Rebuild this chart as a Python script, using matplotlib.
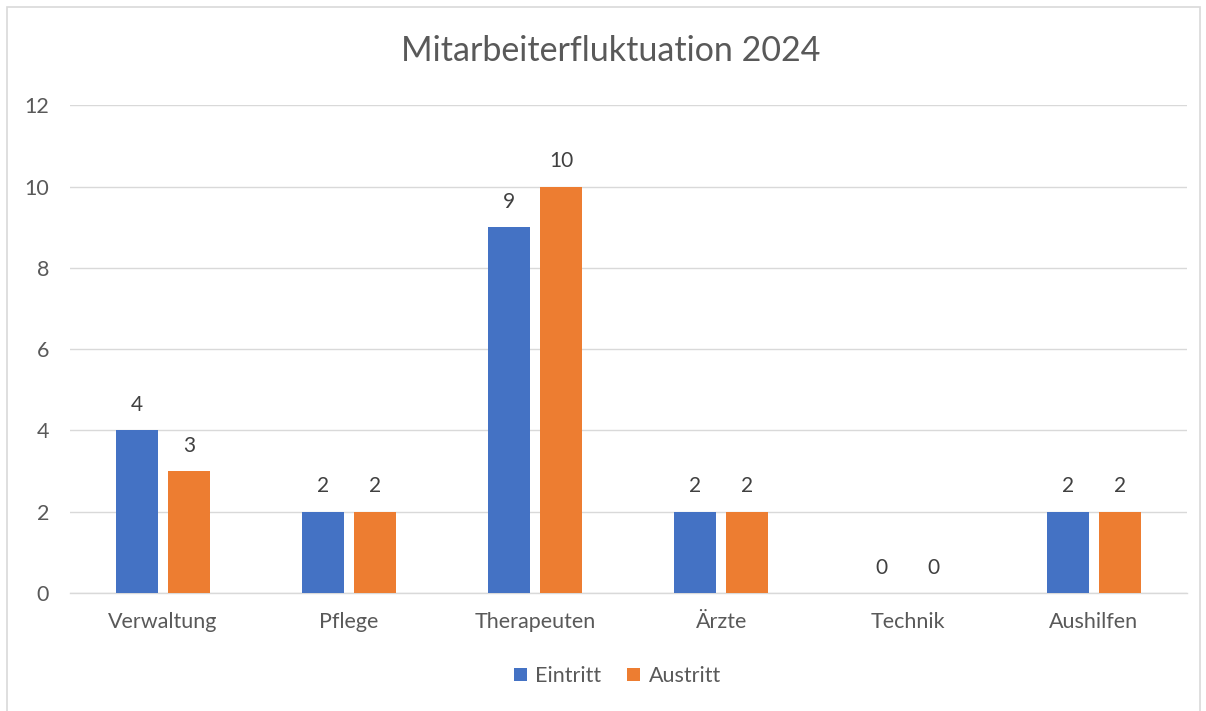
import matplotlib
matplotlib.use("Agg")
import matplotlib.pyplot as plt
import numpy as np
from matplotlib.patches import Rectangle

categories = ["Verwaltung", "Pflege", "Therapeuten", "Ärzte", "Technik", "Aushilfen"]
eintritt = [4, 2, 9, 2, 0, 2]
austritt = [3, 2, 10, 2, 0, 2]
series_names = ["Eintritt", "Austritt"]
colors = ["#4472C4", "#ED7D31"]
text_color = "#595959"

plt.rcParams["font.family"] = ["Lato", "DejaVu Sans"]

fig = plt.figure(figsize=(12.06, 7.11), dpi=100)
ax = fig.add_axes([0.058, 0.166, 0.926, 0.686])

x = np.arange(len(categories))
width = 0.226
offset = 0.14
for vals, name, color, sign in zip([eintritt, austritt], series_names, colors, [-1, 1]):
    bars = ax.bar(x + sign * offset, vals, width, color=color, label=name, zorder=3)
    for bar, v in zip(bars, vals):
        ax.annotate(f"{v}", (bar.get_x() + bar.get_width() / 2, v),
                    xytext=(0, 14), textcoords="offset points",
                    ha="center", va="baseline", fontsize=15, color="#404040")

ax.set_xlim(-0.5, len(categories) - 0.5)
ax.set_ylim(0, 12)
ax.set_yticks(range(0, 13, 2))
ax.set_xticks(x, categories)
ax.grid(axis="y", color="#D9D9D9", linewidth=1.0, zorder=0)
for side in ["top", "right", "left"]:
    ax.spines[side].set_visible(False)
ax.spines["bottom"].set_color("#D9D9D9")
ax.spines["bottom"].set_linewidth(1.0)
ax.tick_params(axis="both", length=0, colors=text_color, labelsize=15.5)
ax.tick_params(axis="x", pad=14)
ax.tick_params(axis="y", pad=15)

fig.text(0.506, 0.928, "Mitarbeiterfluktuation 2024", ha="center", va="center",
         fontsize=24.5, color=text_color)

fig.legend(loc="center", bbox_to_anchor=(0.512, 0.049), ncol=2, frameon=False,
           fontsize=15.5, labelcolor=text_color, handlelength=0.6, handleheight=0.6,
           handletextpad=0.4, columnspacing=1.2)

fig.patches.append(Rectangle((7 / 1206, -0.01), 1193 / 1206, 1 - 7 / 711 + 0.01,
                             transform=fig.transFigure, fill=False,
                             edgecolor="#D9D9D9", linewidth=1.2))

fig.savefig("out.png", dpi=100, facecolor="white")
